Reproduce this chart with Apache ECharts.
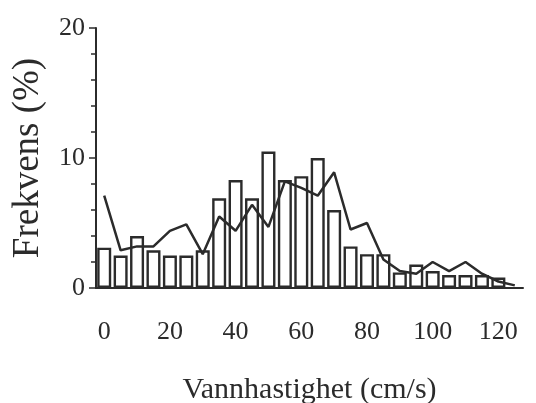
<!DOCTYPE html>
<html>
<head>
<meta charset="utf-8">
<script src="https://cdn.jsdelivr.net/npm/echarts@6/dist/echarts.min.js"></script>
<style>
html, body { margin: 0; padding: 0; background: #fff; }
#main { width: 536px; height: 403px; }
</style>
</head>
<body>
<div id="main"></div>
<script>
// bin centres (cm/s), 5 cm/s wide bins
const speeds = [0, 5, 10, 15, 20, 25, 30, 35, 40, 45, 50, 55, 60, 65, 70, 75, 80, 85, 90, 95, 100, 105, 110, 115, 120, 125];
// histogram bars (%)
const barValues = [3.1, 2.5, 4.0, 2.9, 2.5, 2.5, 2.9, 6.9, 8.3, 6.9, 10.5, 8.3, 8.6, 10.0, 6.0, 3.2, 2.6, 2.6, 1.2, 1.8, 1.3, 1.0, 1.0, 1.0, 0.8, null];
// line (%)
const lineValues = [7.1, 2.9, 3.2, 3.2, 4.4, 4.9, 2.6, 5.5, 4.4, 6.4, 4.7, 8.2, 7.7, 7.1, 8.9, 4.5, 5.0, 2.2, 1.3, 1.1, 2.0, 1.3, 2.0, 1.1, 0.5, 0.2];

const ink = "#2b2b2b";
const font = "Liberation Serif";

let chart = echarts.init(document.getElementById("main"));
chart.setOption({
    animation: false,
    backgroundColor: "#fff",
    grid: {
        left: 96,
        right: 13,
        top: 28,
        bottom: 115,
        outerBoundsMode: "none",
        containLabel: false
    },
    xAxis: {
        type: "category",
        data: speeds,
        boundaryGap: true,
        name: "Vannhastighet (cm/s)",
        nameLocation: "middle",
        nameGap: 87,
        nameTextStyle: {
            fontFamily: font,
            fontSize: 30,
            color: ink
        },
        axisLine: {
            lineStyle: { color: ink, width: 2 }
        },
        axisTick: {
            interval: 1,
            length: 6,
            lineStyle: { color: ink, width: 1.5 }
        },
        axisLabel: {
            interval: 3,
            margin: 31,
            fontFamily: font,
            fontSize: 26,
            color: ink
        },
        splitLine: { show: false }
    },
    yAxis: {
        type: "value",
        min: 0,
        max: 20,
        interval: 10,
        name: "Frekvens (%)",
        nameLocation: "middle",
        nameGap: 49,
        nameTextStyle: {
            fontFamily: font,
            fontSize: 37,
            color: ink
        },
        axisLine: {
            show: true,
            lineStyle: { color: ink, width: 2 }
        },
        axisTick: {
            show: true,
            length: 7,
            lineStyle: { color: ink, width: 1.5 }
        },
        minorTick: {
            show: true,
            splitNumber: 5,
            length: 5,
            lineStyle: { color: ink, width: 1.5 }
        },
        axisLabel: {
            margin: 11,
            fontFamily: font,
            fontSize: 26,
            color: ink
        },
        splitLine: { show: false }
    },
    series: [
        {
            name: "bars",
            type: "bar",
            data: barValues,
            barWidth: 14,
            itemStyle: {
                color: "#fff",
                borderColor: ink,
                borderWidth: 2.4
            }
        },
        {
            name: "line",
            type: "line",
            data: lineValues,
            showSymbol: false,
            lineStyle: { color: ink, width: 2.5 },
            z: 3
        }
    ]
});
</script>
</body>
</html>
